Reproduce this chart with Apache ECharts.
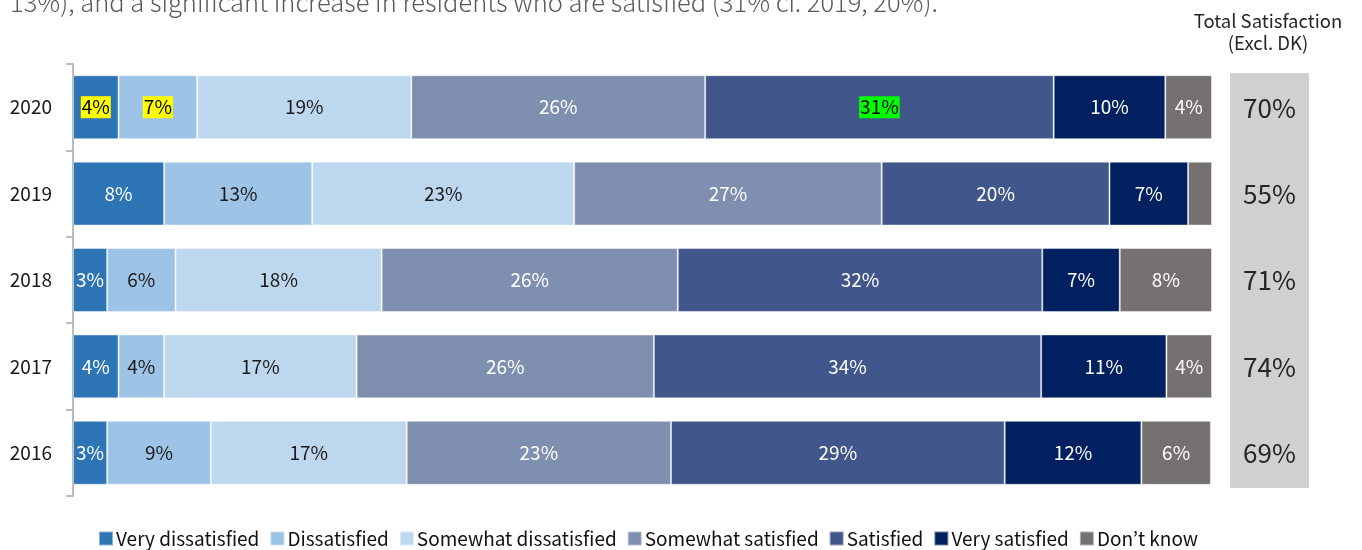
<!DOCTYPE html>
<html>
<head>
<meta charset="utf-8">
<script src="https://cdn.jsdelivr.net/npm/echarts@6/dist/echarts.min.js"></script>
<style>
html,body{margin:0;padding:0;background:#fff;}
#chart{width:1362px;height:550px;}
</style>
</head>
<body>
<div id="chart"></div>
<script>
const years = ['2020', '2019', '2018', '2017', '2016'];
const seriesNames = ['Very dissatisfied', 'Dissatisfied', 'Somewhat dissatisfied', 'Somewhat satisfied', 'Satisfied', 'Very satisfied', 'Don\u2019t know'];
// bar lengths, per year in order 2020..2016
const veryDissatisfied = [4.0, 8.0, 3.0, 4.0, 3.0];
const dissatisfied = [6.9, 13.0, 6.0, 4.0, 9.1];
const somewhatDissatisfied = [18.8, 23.0, 18.1, 16.9, 17.2];
const somewhatSatisfied = [25.8, 27.0, 26.0, 26.1, 23.2];
const satisfied = [30.6, 20.0, 32.0, 34.0, 29.3];
const verySatisfied = [9.8, 6.9, 6.8, 11.0, 12.0];
const dontKnow = [4.1, 2.1, 8.1, 4.0, 6.1];
// printed labels
const veryDissatisfiedLbl = ['4%', '8%', '3%', '4%', '3%'];
const dissatisfiedLbl = ['7%', '13%', '6%', '4%', '9%'];
const somewhatDissatisfiedLbl = ['19%', '23%', '18%', '17%', '17%'];
const somewhatSatisfiedLbl = ['26%', '27%', '26%', '26%', '23%'];
const satisfiedLbl = ['31%', '20%', '32%', '34%', '29%'];
const verySatisfiedLbl = ['10%', '7%', '7%', '11%', '12%'];
const dontKnowLbl = ['4%', '', '8%', '4%', '6%'];
const totalSatisfaction = ['70%', '55%', '71%', '74%', '69%'];

const colors = ['#2E75B6', '#9DC3E6', '#BDD7EE', '#7F8FAF', '#41568A', '#002060', '#767171'];
const labelColors = ['#ffffff', '#1a1a1a', '#1a1a1a', '#ffffff', '#ffffff', '#ffffff', '#ffffff'];
const FONT = '"Noto Sans CJK JP", "Noto Sans", sans-serif';

// highlighted labels: [seriesIndex, yearIndex, background]
const highlights = [[0, 0, '#FFFF00'], [1, 0, '#FFFF00'], [4, 0, '#00FF00']];

const values = [veryDissatisfied, dissatisfied, somewhatDissatisfied, somewhatSatisfied, satisfied, verySatisfied, dontKnow];
const labels = [veryDissatisfiedLbl, dissatisfiedLbl, somewhatDissatisfiedLbl, somewhatSatisfiedLbl, satisfiedLbl, verySatisfiedLbl, dontKnowLbl];

const barSeries = seriesNames.map((name, si) => ({
  name: name,
  type: 'bar',
  stack: 'total',
  xAxisIndex: 0,
  yAxisIndex: 0,
  barCategoryGap: '26%',
  itemStyle: { color: colors[si], borderColor: 'rgba(255,255,255,0.45)', borderWidth: 1 },
  data: values[si].map((v, yi) => {
    const d = {
      value: v,
      label: {
        show: labels[si][yi] !== '',
        formatter: labels[si][yi],
        color: labelColors[si]
      }
    };
    highlights.forEach(h => {
      if (h[0] === si && h[1] === yi) {
        d.label.color = '#000000';
        d.label.backgroundColor = h[2];
        d.label.padding = [2, 1, 1, 1];
      }
    });
    return d;
  }),
  label: {
    show: true,
    position: 'inside',
    fontFamily: FONT,
    fontSize: 19
  },
  emphasis: { disabled: true },
  animation: false
}));

const chart = echarts.init(document.getElementById('chart'), null, { renderer: 'canvas' });
chart.setOption({
  animation: false,
  color: colors,
  textStyle: { fontFamily: FONT },
  grid: [
    { left: 73, right: 150, top: 64, bottom: 54 },
    { left: 1230, width: 79, top: 65, bottom: 54 }
  ],
  xAxis: [
    { type: 'value', gridIndex: 0, min: 0, max: 100, show: false },
    { type: 'value', gridIndex: 1, min: 0, max: 1, show: false }
  ],
  yAxis: [
    {
      type: 'category', gridIndex: 0, data: years, inverse: true,
      axisLine: { show: true, lineStyle: { color: '#A6A6A6', width: 1.5 } },
      axisTick: { show: true, length: 7, lineStyle: { color: '#A6A6A6', width: 1.5 } },
      axisLabel: { color: '#1a1a1a', fontSize: 19, fontFamily: FONT, margin: 21 }
    },
    { type: 'category', gridIndex: 1, data: years, inverse: true, show: false }
  ],
  legend: {
    left: 93, top: 524,
    itemWidth: 14, itemHeight: 14, itemGap: 10,
    icon: 'rect',
    textStyle: { fontSize: 19, color: '#111111', fontFamily: FONT, padding: [0, 0, 0, -2] },
    data: seriesNames
  },
  graphic: [
    { type: 'rect', z: 0, shape: { x: 1230, y: 73, width: 79, height: 415 }, style: { fill: '#D0D0D2' } },
    { type: 'text', z: 10, left: 10, top: -10, style: { text: '13%), and a significant increase in residents who are satisfied (31% cf. 2019, 20%).', fontSize: 25.5, fontWeight: 300, fontFamily: FONT, fill: '#595959' } },
    { type: 'text', z: 10, x: 1268, y: 21, style: { text: 'Total Satisfaction', fontSize: 18.5, fontFamily: FONT, fill: '#262626', align: 'center', verticalAlign: 'middle' } },
    { type: 'text', z: 10, x: 1268, y: 43, style: { text: '(Excl. DK)', fontSize: 18.5, fontFamily: FONT, fill: '#262626', align: 'center', verticalAlign: 'middle' } }
  ],
  series: barSeries.concat([{
    name: 'Total',
    type: 'bar',
    xAxisIndex: 1,
    yAxisIndex: 1,
    barWidth: '100%',
    itemStyle: { color: 'rgba(0,0,0,0)' },
    data: totalSatisfaction.map(t => ({ value: 1, label: { formatter: t } })),
    label: { show: true, position: 'inside', fontSize: 26, color: '#262626', fontFamily: FONT },
    emphasis: { disabled: true },
    z: 5
  }])
});
</script>
</body>
</html>
